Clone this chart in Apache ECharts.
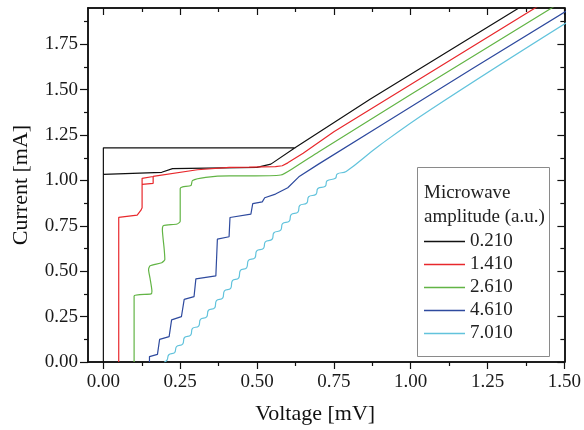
<!DOCTYPE html>
<html>
<head>
<meta charset="utf-8">
<script src="https://cdn.jsdelivr.net/npm/echarts@6/dist/echarts.min.js"></script>
<style>
  html, body { margin: 0; padding: 0; background: #fff; }
  #chart { width: 584px; height: 430px; }
</style>
</head>
<body>
<div id="chart"></div>
<script>
// tick positions
const xMajor = [0, 0.25, 0.5, 0.75, 1.0, 1.25, 1.5];
const xMinor = [0.125, 0.375, 0.625, 0.875, 1.125, 1.375];
const yMajor = [0, 0.25, 0.5, 0.75, 1.0, 1.25, 1.5, 1.75];
const yMinor = [0.125, 0.375, 0.625, 0.875, 1.125, 1.375, 1.625, 1.875];

const amplitudes = ['0.210', '1.410', '2.610', '4.610', '7.010'];
const colors = ['#111111', '#e8282c', '#62b445', '#2e4a9e', '#62c3dc'];

// [voltage mV, current mA]
const curve0210 = [
  [0.625, 1.18], [0, 1.18], [0, 0], [0, 1.034], [0.19, 1.045], [0.225, 1.065],
  [0.5, 1.072], [0.545, 1.09], [0.626, 1.183], [0.869, 1.449], [1.40, 2.0]
];
const curve1410 = [
  [0.05, 0], [0.05, 0.797], [0.11, 0.809], [0.123, 0.838], [0.126, 0.85],
  [0.126, 1.012], [0.162, 1.022], [0.162, 0.984], [0.126, 0.978], [0.162, 0.984],
  [0.162, 1.022], [0.306, 1.059], [0.41, 1.072], [0.474, 1.073], [0.56, 1.076],
  [0.582, 1.081], [0.60, 1.097], [0.65, 1.15], [0.75, 1.268], [1.0, 1.529], [1.45, 1.997]
];
const curve2610 = [
  [0.1, 0], [0.1, 0.364], [0.155, 0.375], [0.158, 0.39], [0.152, 0.46], [0.147, 0.51],
  [0.152, 0.53], [0.19, 0.547], [0.2, 0.565], [0.198, 0.62], [0.192, 0.73], [0.196, 0.752],
  [0.24, 0.76], [0.25, 0.775], [0.25, 0.956], [0.258, 0.965], [0.285, 0.972], [0.29, 1.0],
  [0.333, 1.017], [0.41, 1.025], [0.474, 1.025], [0.577, 1.03], [0.62, 1.07],
  [0.7, 1.157], [1.0, 1.473], [1.5, 1.993]
];
const curve4610 = [
  [0.15, 0], [0.15, 0.03], [0.176, 0.042], [0.183, 0.125], [0.214, 0.14], [0.222, 0.232],
  [0.254, 0.25], [0.263, 0.345], [0.295, 0.36], [0.301, 0.458], [0.366, 0.474],
  [0.371, 0.677], [0.409, 0.69], [0.412, 0.796], [0.48, 0.815], [0.486, 0.872],
  [0.517, 0.882], [0.525, 0.905], [0.56, 0.925], [0.6, 0.96], [0.636, 1.02],
  [0.7, 1.09], [0.9, 1.3], [1.2, 1.615], [1.55, 1.979]
];
const curve7010 = [
  [0.198, 0], [0.207, 0.010], [0.213, 0.040], [0.232, 0.052], [0.238, 0.085],
  [0.258, 0.098], [0.264, 0.135], [0.284, 0.148], [0.290, 0.185], [0.310, 0.198],
  [0.316, 0.235], [0.336, 0.248], [0.342, 0.285], [0.362, 0.298], [0.368, 0.338],
  [0.388, 0.352], [0.394, 0.392], [0.414, 0.406], [0.420, 0.448], [0.440, 0.462],
  [0.446, 0.505], [0.466, 0.519], [0.472, 0.560], [0.493, 0.574], [0.499, 0.612],
  [0.521, 0.626], [0.527, 0.662], [0.549, 0.676], [0.555, 0.712], [0.577, 0.726],
  [0.583, 0.762], [0.605, 0.776], [0.611, 0.812], [0.633, 0.826], [0.639, 0.862],
  [0.662, 0.876], [0.668, 0.910], [0.692, 0.924], [0.698, 0.956], [0.722, 0.968],
  [0.728, 0.998], [0.755, 1.012], [0.761, 1.036], [0.790, 1.050], [0.896, 1.19],
  [1.064, 1.39], [1.55, 1.915]
];
const curves = [curve0210, curve1410, curve2610, curve4610, curve7010];
const smoothness = [false, false, 0.2, false, 0.45];

const FONT = 'Liberation Serif';
const myChart = echarts.init(document.getElementById('chart'));

// one axis for the main ticks, one for the short ticks between them
function xAx(pos, ticks, len, inside, withLabel) {
  return {
    type: 'value', position: pos, min: -0.05, max: 1.5,
    axisLine: { show: true, onZero: false, lineStyle: { color: '#111', width: 1.5 } },
    axisTick: { show: true, inside: inside, length: len, customValues: ticks,
      lineStyle: { color: '#111', width: 1.2 } },
    axisLabel: withLabel ? {
      show: true, customValues: ticks, margin: 11,
      fontFamily: FONT, fontSize: 19, color: '#1a1a1a',
      formatter: v => v.toFixed(2)
    } : { show: false },
    splitLine: { show: false }
  };
}
function yAx(pos, ticks, len, inside, withLabel) {
  return {
    type: 'value', position: pos, min: 0, max: 1.95,
    axisLine: { show: true, onZero: false, lineStyle: { color: '#111', width: 1.5 } },
    axisTick: { show: true, inside: inside, length: len, customValues: ticks,
      lineStyle: { color: '#111', width: 1.2 } },
    axisLabel: withLabel ? {
      show: true, customValues: ticks, margin: 10,
      fontFamily: FONT, fontSize: 19, color: '#1a1a1a',
      formatter: v => v.toFixed(2)
    } : { show: false },
    splitLine: { show: false }
  };
}

const xMain = xAx('bottom', xMajor, 7, false, true);
xMain.name = 'Voltage [mV]';
xMain.nameLocation = 'middle';
xMain.nameGap = 41;
xMain.nameTextStyle = { fontFamily: FONT, fontSize: 22, color: '#111', padding: [0, 22, 0, 0] };

const yMain = yAx('left', yMajor, 8, false, true);
yMain.name = 'Current [mA]';
yMain.nameLocation = 'middle';
yMain.nameGap = 56;
yMain.nameTextStyle = { fontFamily: FONT, fontSize: 22, color: '#111' };

const option = {
  animation: false,
  backgroundColor: '#fff',
  grid: { left: 88, right: 18, top: 8, bottom: 67 },
  xAxis: [
    xMain,
    xAx('bottom', xMinor, 4, false, false),
    xAx('top', xMajor, 7, true, false),
    xAx('top', xMinor, 4, true, false)
  ],
  yAxis: [
    yMain,
    yAx('left', yMinor, 4, false, false),
    yAx('right', yMajor, 7, true, false),
    yAx('right', yMinor, 4, true, false)
  ],
  legend: {
    orient: 'vertical',
    left: 424, top: 232,
    padding: 0,
    z: 100,
    icon: 'rect',
    itemWidth: 41, itemHeight: 1.3, itemGap: 4,
    textStyle: { fontFamily: FONT, fontSize: 19, color: '#222' },
    data: amplitudes.map((a, i) => ({ name: a, itemStyle: { color: colors[i] } }))
  },
  graphic: [
    { type: 'rect', left: 417, top: 167, shape: { width: 132, height: 189 },
      style: { fill: '#fff', stroke: '#8a8a8a', lineWidth: 1 }, z: 50 },
    { type: 'text', left: 424, top: 184,
      style: { text: 'Microwave', font: '19px "Liberation Serif"', fill: '#222' }, z: 51 },
    { type: 'text', left: 424, top: 208,
      style: { text: 'amplitude (a.u.)', font: '19px "Liberation Serif"', fill: '#222' }, z: 51 }
  ],
  series: curves.map((d, i) => ({
    name: amplitudes[i],
    type: 'line',
    data: d,
    symbol: 'none',
    smooth: smoothness[i],
    clip: true,
    color: colors[i],
    lineStyle: { color: colors[i], width: 1.2 },
    z: 5
  }))
};

myChart.setOption(option);
</script>
</body>
</html>
